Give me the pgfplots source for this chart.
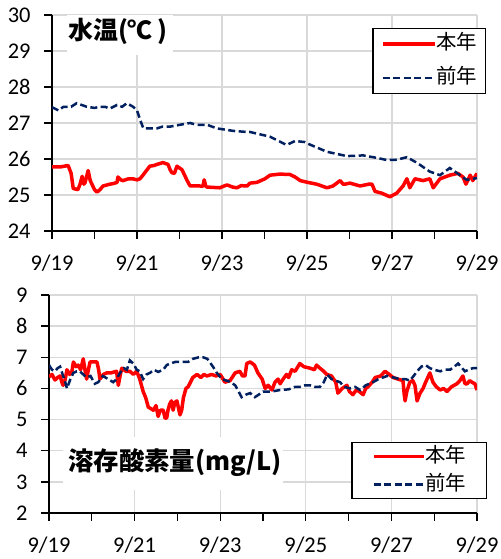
\documentclass[border=0pt]{standalone}
\usepackage{fontspec}
\setmainfont{Carlito}
\newfontfamily\cjk{Noto Sans CJK JP}
\usepackage{pgfplots}
\pgfplotsset{compat=1.18}
\definecolor{myred}{HTML}{FF0000}
\definecolor{myblue}{HTML}{002060}
\definecolor{gridgray}{HTML}{D9D9D9}
\pgfplotsset{
  common/.style={
    scale only axis,
    xmin=0,xmax=10,
    xtick={0,2,...,10},
    minor xtick={1,3,...,9},
    xticklabels={9/19,9/21,9/23,9/25,9/27,9/29},
    axis x line=bottom, axis y line=left,
    axis line style={black, line width=1.3bp, -},
    xmajorgrids, ymajorgrids,
    grid style={gridgray, line width=1.3bp},
    tick style={black, line width=1.3bp},
    tick align=outside,
    major tick length=8bp, minor tick length=8bp,
    tick label style={font=\fontsize{22.5}{24}\selectfont},
    yticklabel style={xshift=-10bp},
    xticklabel style={yshift=-12bp},
    /pgf/number format/assume math mode=true,
    legend cell align=left,
    legend image code/.code={\draw[#1] (0bp,0bp) -- (52bp,0bp);},
  },
  thisyear/.style={myred, line width=3.5bp, line join=round},
  lastyear/.style={myblue, line width=2.5bp, dash pattern=on 7bp off 3.5bp},
}
\begin{document}
\begin{tikzpicture}
\begin{axis}[common,
  at={(52bp,328bp)}, anchor=south west,
  width=425bp, height=216bp,
  ymin=24, ymax=30, ytick={24,25,...,30},
  legend style={at={(1.0212,0.9398)}, anchor=north east, draw=black, line width=1.3bp,
    inner xsep=8bp, inner ysep=6bp, row sep=15bp,
    nodes={inner sep=0pt, text height=15bp, text depth=4bp},
    font=\cjk\fontsize{20.5}{21}\selectfont,
    /tikz/every even column/.append style={column sep=5bp}},
]
\addplot[thisyear] coordinates {
(0,25.78) (0.2,25.78) (0.38,25.82) (0.45,25.6) (0.5,25.18) (0.61,25.15) (0.66,25.3) (0.71,25.52)
(0.75,25.3) (0.78,25.35) (0.85,25.68) (0.9,25.4) (0.94,25.3) (1.0,25.15) (1.06,25.08) (1.13,25.15)
(1.2,25.25) (1.36,25.3) (1.45,25.32) (1.53,25.35) (1.55,25.5) (1.62,25.42) (1.67,25.4) (1.8,25.45)
(1.9,25.45) (2.0,25.42) (2.07,25.45) (2.14,25.55) (2.3,25.8) (2.4,25.82) (2.47,25.85) (2.61,25.9)
(2.73,25.85) (2.78,25.7) (2.82,25.62) (2.88,25.6) (2.94,25.8) (3.06,25.7) (3.12,25.55) (3.18,25.4)
(3.25,25.25) (3.48,25.25) (3.55,25.24) (3.58,25.42) (3.62,25.24) (3.65,25.22) (3.95,25.2) (4.05,25.25)
(4.12,25.28) (4.25,25.22) (4.35,25.2) (4.45,25.26) (4.59,25.25) (4.66,25.33) (4.82,25.35) (5.01,25.45)
(5.13,25.55) (5.36,25.58) (5.6,25.57) (5.72,25.5) (5.84,25.4) (6.02,25.35) (6.23,25.3) (6.35,25.25)
(6.47,25.2) (6.61,25.25) (6.78,25.4) (6.85,25.3) (6.89,25.3) (7.01,25.33) (7.25,25.25) (7.45,25.3)
(7.53,25.3) (7.6,25.1) (7.76,25.05) (7.95,24.95) (8.11,25.05) (8.26,25.25) (8.35,25.45) (8.42,25.2)
(8.54,25.45) (8.73,25.4) (8.89,25.45) (8.97,25.2) (9.13,25.45) (9.36,25.55) (9.55,25.6) (9.67,25.5)
(9.74,25.3) (9.84,25.55) (9.9,25.4) (10,25.6)
};
\addlegendentry{本年}
\addplot[lastyear] coordinates {
(0,27.44) (0.15,27.35) (0.27,27.45) (0.45,27.45) (0.58,27.55) (0.7,27.5) (0.82,27.45) (1.0,27.42)
(1.13,27.45) (1.25,27.45) (1.36,27.4) (1.53,27.5) (1.65,27.45) (1.76,27.55) (1.91,27.45) (2.0,27.35)
(2.07,27.1) (2.15,26.85) (2.3,26.85) (2.47,26.85) (2.6,26.9) (2.78,26.9) (3.01,26.95) (3.25,27.0)
(3.4,26.95) (3.65,26.95) (3.88,26.85) (4.27,26.78) (4.59,26.75) (4.66,26.75) (5.13,26.62) (5.52,26.39)
(5.72,26.5) (5.95,26.47) (6.07,26.4) (6.47,26.2) (6.94,26.08) (7.32,26.1) (7.65,26.03) (7.88,25.97)
(8.11,25.98) (8.35,26.05) (8.58,25.9) (8.89,25.65) (9.13,25.55) (9.36,25.75) (9.6,25.55) (9.76,25.42)
(10,25.47)
};
\addlegendentry{前年}
\end{axis}
\begin{axis}[common,
  at={(49bp,46bp)}, anchor=south west,
  width=428bp, height=218bp,
  ymin=2, ymax=9, ytick={2,3,...,9},
  legend style={at={(1.0234,0.3257)}, anchor=north east, draw=black, line width=1.3bp,
    inner xsep=20bp, inner ysep=4.5bp, row sep=9bp,
    nodes={inner sep=0pt, text height=15bp, text depth=4bp},
    font=\cjk\fontsize{20.5}{21}\selectfont,
    /tikz/every even column/.append style={column sep=6bp}},
  legend image code/.code={\draw[#1] (0bp,0bp) -- (50bp,0bp);},
]
\addplot[thisyear] coordinates {
(0,6.37) (0.07,6.45) (0.14,6.27) (0.2,6.35) (0.26,6.4) (0.3,6.2) (0.33,6.1) (0.38,6.3) (0.42,6.6)
(0.48,6.45) (0.53,6.5) (0.57,6.85) (0.63,6.7) (0.68,6.75) (0.74,6.6) (0.8,6.95) (0.84,6.6) (0.88,6.3)
(0.92,6.6) (0.96,6.85) (1.05,6.85) (1.12,6.85) (1.16,6.6) (1.19,6.3) (1.27,6.45) (1.35,6.5) (1.45,6.5)
(1.58,6.55) (1.6,6.3) (1.62,6.1) (1.66,6.4) (1.7,6.65) (1.8,6.55) (1.89,6.55) (1.97,6.45) (2.05,6.55)
(2.12,6.3) (2.2,5.9) (2.26,5.7) (2.32,5.4) (2.38,5.35) (2.44,5.3) (2.5,5.45) (2.55,5.1) (2.6,5.3)
(2.67,5.3) (2.71,5.05) (2.75,5.05) (2.78,5.3) (2.82,5.5) (2.86,5.6) (2.9,5.3) (2.94,5.55) (2.99,5.6)
(3.02,5.4) (3.06,5.15) (3.1,5.3) (3.14,5.7) (3.2,6.0) (3.25,6.05) (3.36,6.35) (3.46,6.45) (3.55,6.35)
(3.62,6.45) (3.69,6.4) (3.8,6.45) (3.9,6.4) (4.0,6.45) (4.11,6.2) (4.23,6.25) (4.35,6.5) (4.46,6.55)
(4.52,6.4) (4.58,6.4) (4.62,6.8) (4.7,6.85) (4.8,6.75) (4.88,6.5) (4.98,6.3) (5.05,6.0) (5.12,6.1)
(5.21,5.95) (5.28,6.2) (5.35,6.3) (5.4,6.15) (5.47,6.3) (5.55,6.45) (5.6,6.35) (5.67,6.6) (5.75,6.55)
(5.86,6.8) (5.95,6.7) (6.1,6.65) (6.2,6.6) (6.25,6.75) (6.33,6.65) (6.42,6.55) (6.49,6.45) (6.6,6.4)
(6.7,6.2) (6.75,5.85) (6.85,6.0) (6.96,6.1) (7.02,5.9) (7.1,5.8) (7.18,5.95) (7.25,5.9) (7.34,5.8)
(7.4,6.0) (7.45,6.05) (7.55,6.2) (7.62,6.35) (7.75,6.4) (7.85,6.55) (7.95,6.45) (8.04,6.35) (8.15,6.3)
(8.27,6.25) (8.3,5.8) (8.32,5.6) (8.36,5.9) (8.43,6.2) (8.5,6.25) (8.55,6.1) (8.58,5.8) (8.6,5.6)
(8.67,5.85) (8.74,6.0) (8.8,6.2) (8.85,6.35) (8.9,6.5) (8.97,6.2) (9.05,6.05) (9.14,5.95) (9.22,6.0)
(9.3,5.9) (9.4,6.05) (9.53,6.15) (9.6,6.25) (9.67,6.4) (9.72,6.15) (9.77,6.15) (9.83,6.25) (9.88,6.2)
(9.95,6.15) (10,5.95)
};
\addlegendentry{本年}
\addplot[lastyear] coordinates {
(0,6.75) (0.07,6.6) (0.14,6.55) (0.2,6.65) (0.26,6.7) (0.33,6.4) (0.38,6.2) (0.42,6.0) (0.5,6.3)
(0.57,6.5) (0.65,6.55) (0.72,6.55) (0.8,6.45) (0.88,6.35) (0.97,6.4) (1.07,6.15) (1.15,6.2) (1.26,6.4)
(1.38,6.3) (1.5,6.2) (1.58,6.3) (1.66,6.5) (1.75,6.65) (1.82,6.6) (1.89,6.9) (1.97,6.8) (2.05,6.6)
(2.12,6.55) (2.2,6.3) (2.28,6.45) (2.36,6.5) (2.45,6.6) (2.55,6.53) (2.67,6.6) (2.75,6.75) (2.83,6.8)
(2.95,6.85) (3.06,6.85) (3.25,6.85) (3.36,6.95) (3.5,7.0) (3.6,7.0) (3.7,6.95) (3.83,6.7) (3.92,6.5)
(4.04,6.3) (4.15,6.25) (4.25,6.2) (4.35,6.1) (4.43,5.9) (4.5,5.72) (4.6,5.8) (4.7,5.85) (4.81,5.72)
(4.9,5.8) (5.0,5.9) (5.2,5.9) (5.4,5.95) (5.6,5.97) (5.75,6.05) (5.86,6.05) (5.98,6.1) (6.1,6.1)
(6.2,6.05) (6.33,6.05) (6.42,6.2) (6.5,6.45) (6.6,6.3) (6.7,6.25) (6.8,6.2) (6.9,6.05) (7.03,6.0)
(7.15,6.05) (7.27,5.95) (7.4,6.1) (7.57,6.2) (7.7,6.3) (7.8,6.35) (7.9,6.4) (8.05,6.35) (8.2,6.3)
(8.33,6.3) (8.43,6.25) (8.52,6.4) (8.6,6.55) (8.7,6.7) (8.8,6.75) (8.9,6.65) (9.0,6.6) (9.14,6.55)
(9.25,6.6) (9.37,6.6) (9.47,6.7) (9.56,6.8) (9.65,6.65) (9.72,6.55) (9.8,6.6) (9.9,6.65) (10,6.65)
};
\addlegendentry{前年}
\end{axis}
% title boxes
\fill[white] (67bp,504bp) rectangle (173bp,544bp);
\node[anchor=west, inner sep=0pt] at (68bp,528bp) {\cjk\bfseries\fontsize{25}{25}\selectfont 水温(℃\,)};
\fill[white] (63bp,69bp) rectangle (283bp,122bp);
\node[anchor=west, inner sep=0pt] at (68bp,96bp) {\cjk\bfseries\fontsize{25.5}{25}\selectfont 溶存酸素量(mg/L)};
\pgfresetboundingbox
\path[use as bounding box] (0bp,0bp) rectangle (501bp,559bp);
\end{tikzpicture}
\end{document}
